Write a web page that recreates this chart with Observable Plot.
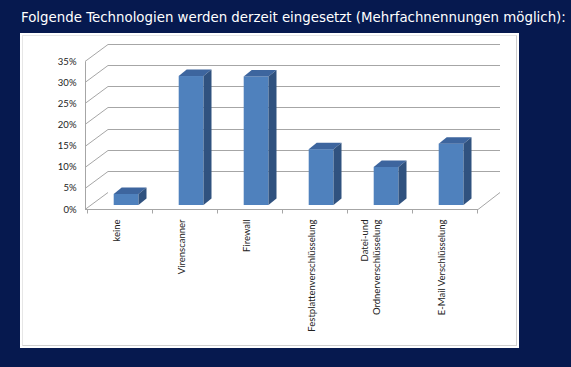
<!DOCTYPE html>
<html>
<head>
<meta charset="utf-8">
<script src="https://cdn.jsdelivr.net/npm/d3@7"></script>
<script src="https://cdn.jsdelivr.net/npm/@observablehq/plot@0.6"></script>
<style>
  html, body { margin: 0; padding: 0; background: #06194f; width: 571px; height: 367px; overflow: hidden; }
  #wrap { position: relative; width: 571px; height: 367px; }
  #title { position: absolute; left: 21px; top: 10px; color: #ffffff; font-family: "DejaVu Sans", sans-serif; font-size: 13.35px; white-space: nowrap; }
  #panel { position: absolute; left: 20px; top: 33px; width: 499px; height: 315px; background: #ffffff; }
  #inner { position: absolute; left: 2px; top: 2px; right: 2px; bottom: 2px; border: 1px solid #cfcfcf; border-top-color: #e6e6e6; border-left-color: #e6e6e6; }
  #chart { position: absolute; left: 0; top: 0; }
</style>
</head>
<body>
<div id="wrap">
  <div id="title">Folgende Technologien werden derzeit eingesetzt (Mehrfachnennungen möglich):</div>
  <div id="panel"><div id="inner"></div></div>
  <div id="chart"></div>
</div>
<script>
// ---- data ----
const categories = ["keine", "Virenscanner", "Firewall", "Festplattenverschlüsselung", "Datei-und\nOrdnerverschlüsselung", "E-Mail Verschlüsselung"];
const values = [2.6, 30.5, 30.4, 13.2, 9.0, 14.5];
const yTicks = [0, 5, 10, 15, 20, 25, 30, 35];

const data = categories.map((c, i) => ({cat: c, value: values[i]}));

// ---- style constants (3D look) ----
const depthX = 23, depthY = -17;     // wall depth offset
const barDX = 8, barDY = -6.5;       // bar depth offset
const barLift = -4;                  // bar plane shift
const gridColor = "#a6a6a6";

function el(name) { return document.createElementNS("http://www.w3.org/2000/svg", name); }
const c = v => Math.round(v) + 0.5;

// back wall gridlines, diagonals, floor
function walls(index, scales, values, dims) {
  const {y} = scales;
  const g = el("g");
  const x0 = dims.marginLeft, x1 = dims.width - dims.marginRight;
  for (const t of yTicks) {
    const yy = c(y(t));
    const yb = yy + depthY;
    const p = el("path");
    if (t === 0) {
      p.setAttribute("d", `M${x0},${yy}L${x0 + depthX},${yb}M${x0},${yy}L${x1},${yy}L${x1 + depthX - 1},${yb}`);
    } else {
      p.setAttribute("d", `M${x0},${yy}L${x0 + depthX},${yb}L${x1 + depthX - 1},${yb}`);
    }
    p.setAttribute("fill", "none");
    p.setAttribute("stroke", gridColor);
    p.setAttribute("stroke-width", 1);
    g.appendChild(p);
  }
  // vertical front axis line
  const v = el("path");
  v.setAttribute("d", `M${c(x0)},${c(y(0))}L${c(x0)},${c(y(yTicks[yTicks.length - 1]))}`);
  v.setAttribute("stroke", gridColor);
  g.appendChild(v);
  // x ticks at band boundaries
  const {x} = scales;
  const bw = x.bandwidth();
  const bounds = categories.map(k => x(k)).concat([x(categories[categories.length - 1]) + bw]);
  for (const b of bounds) {
    const t = el("path");
    t.setAttribute("d", `M${c(b)},${c(y(0))}L${c(b)},${c(y(0)) + 4}`);
    t.setAttribute("stroke", gridColor);
    g.appendChild(t);
  }
  return g;
}

const insetL = 26.7, insetR = 13.5;

// top and side faces of bars
function faces(index, scales, vals, dims) {
  const {x, y} = scales;
  const bw = x.bandwidth();
  const g = el("g");
  for (const d of data) {
    const L = x(d.cat) + insetL, R = x(d.cat) + bw - insetR;
    const T = y(d.value) + barLift, B = y(0) + barLift;
    const top = el("path");
    top.setAttribute("d", `M${L},${T}L${R},${T}L${R + barDX},${T + barDY}L${L + barDX},${T + barDY}Z`);
    top.setAttribute("fill", "#3d659e");
    g.appendChild(top);
    const side = el("path");
    side.setAttribute("d", `M${R},${T}L${R + barDX},${T + barDY}L${R + barDX},${B + barDY}L${R},${B}Z`);
    side.setAttribute("fill", "#30527f");
    g.appendChild(side);
  }
  return g;
}

const chart = Plot.plot({
  width: 571,
  height: 367,
  marginLeft: 85,
  marginRight: 93,
  marginTop: 61,
  marginBottom: 158,
  style: {background: "transparent", fontFamily: "Lato, 'Open Sans', sans-serif", fontSize: "9.5px", color: "#222"},
  x: {domain: categories, padding: 0, axis: null},
  y: {domain: [0, 35], ticks: yTicks, tickFormat: d => d + "%", tickSize: 0, tickPadding: 9, label: null, axis: "left"},
  marks: [
    walls,
    Plot.barY(data, {x: "cat", y: "value", fill: "#4f81bd", insetLeft: insetL, insetRight: insetR, dy: barLift}),
    faces,
    Plot.text(data, {x: "cat", text: "cat", frameAnchor: "bottom", rotate: -90, textAnchor: "end", dy: 10, fill: "#222", lineHeight: 1.3})
  ]
});
document.getElementById("chart").appendChild(chart);
</script>
</body>
</html>
